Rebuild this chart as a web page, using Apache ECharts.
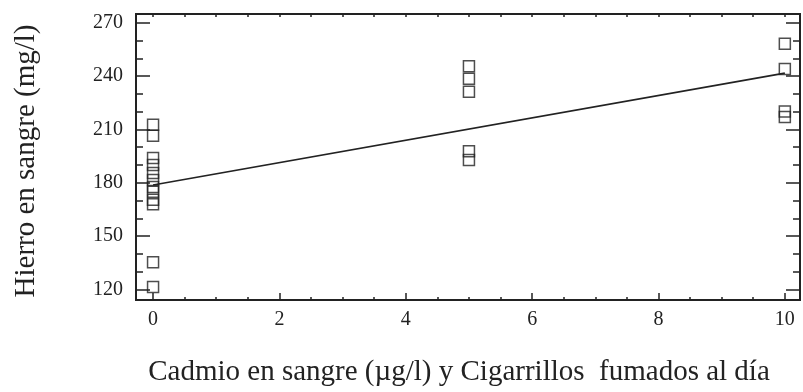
<!DOCTYPE html>
<html>
<head>
<meta charset="utf-8">
<script src="https://cdn.jsdelivr.net/npm/echarts@6/dist/echarts.min.js"></script>
<style>
  html, body { margin: 0; padding: 0; background: #fff; }
  #chart { width: 803px; height: 392px; }
</style>
</head>
<body>
<div id="chart"></div>
<script>
// Blood cadmium / cigarettes per day (x) vs blood iron (y)
const cadmio = [0,0,0,0,0,0,0,0,0,0,0,0, 5,5,5,5,5, 10,10,10,10];
const hierro = [212.6,206.4,193.9,190,185.5,181.5,177.6,175,170.4,167.9,135.2,121.3,
                245.6,238.6,231.3,197.8,192.8,
                258.2,244,220.1,217];

const xMajorTicks = [0, 2, 4, 6, 8, 10];
const xMinorTicks = [0,0.5,1,1.5,2,2.5,3,3.5,4,4.5,5,5.5,6,6.5,7,7.5,8,8.5,9,9.5,10];
const yMajorTicks = [120, 150, 180, 210, 240, 270];
const yMinorTicks = [120,130,140,150,160,170,180,190,200,210,220,230,240,250,260,270];

// Least-squares fit of iron on cadmium
function fitLine(xs, ys) {
  const n = xs.length;
  const mx = xs.reduce((a, b) => a + b, 0) / n;
  const my = ys.reduce((a, b) => a + b, 0) / n;
  let sxy = 0, sxx = 0;
  for (let i = 0; i < n; i++) {
    sxy += (xs[i] - mx) * (ys[i] - my);
    sxx += (xs[i] - mx) * (xs[i] - mx);
  }
  const b = sxy / sxx;
  return { a: my - b * mx, b: b };
}
const fit = fitLine(cadmio, hierro);
const fitX = [0, 10];
const fitData = fitX.map(x => [x, fit.a + fit.b * x]);

const X_MIN = -0.27, X_MAX = 10.24;
const Y_MIN = 114, Y_MAX = 275;
const ink = '#222';
const serif = '"Liberation Serif", "DejaVu Serif", serif';

function xAx(pos, ticks, len, labels) {
  return {
    type: 'value', position: pos, min: X_MIN, max: X_MAX,
    axisLine: { show: true, onZero: false, lineStyle: { color: ink, width: 2 } },
    axisTick: { show: true, inside: true, length: len, customValues: ticks, lineStyle: { color: ink, width: 1.5 } },
    axisLabel: labels ? { show: true, customValues: labels, color: ink, fontFamily: serif, fontSize: 20, margin: 10 } : { show: false },
    splitLine: { show: false }
  };
}
function yAx(pos, ticks, len, labels) {
  return {
    type: 'value', position: pos, min: Y_MIN, max: Y_MAX,
    axisLine: { show: true, onZero: false, lineStyle: { color: ink, width: 2 } },
    axisTick: { show: true, inside: true, length: len, customValues: ticks, lineStyle: { color: ink, width: 1.5 } },
    axisLabel: labels ? { show: true, customValues: labels, color: ink, fontFamily: serif, fontSize: 20, margin: 13 } : { show: false },
    splitLine: { show: false }
  };
}

const xMain = xAx('bottom', xMajorTicks, 7, xMajorTicks);
xMain.name = 'Cadmio en sangre (\u00b5g/l) y Cigarrillos  fumados al d\u00eda';
xMain.nameLocation = 'middle';
xMain.nameGap = 58;
xMain.nameTextStyle = { color: ink, fontFamily: serif, fontSize: 29, padding: [0, 18, 0, 0] };

const yMain = yAx('left', yMajorTicks, 14, yMajorTicks);
yMain.name = 'Hierro en sangre (mg/l)';
yMain.nameLocation = 'middle';
yMain.nameGap = 95;
yMain.nameTextStyle = { color: ink, fontFamily: serif, fontSize: 29, padding: [0, 8, 0, 0] };

const chart = echarts.init(document.getElementById('chart'));
chart.setOption({
  animation: false,
  backgroundColor: '#fff',
  grid: { left: 136, top: 14, right: 3, bottom: 92, containLabel: false },
  xAxis: [
    xMain,
    xAx('bottom', xMinorTicks, 3, null),
    xAx('top', xMinorTicks, 3, null)
  ],
  yAxis: [
    yMain,
    yAx('left', yMinorTicks, 7, null),
    yAx('right', yMajorTicks, 14, null),
    yAx('right', yMinorTicks, 7, null)
  ],
  series: [
    {
      type: 'line',
      xAxisIndex: 0, yAxisIndex: 0,
      data: fitData,
      symbol: 'none',
      lineStyle: { color: ink, width: 1.6 },
      z: 2
    },
    {
      type: 'scatter',
      xAxisIndex: 0, yAxisIndex: 0,
      data: cadmio.map((x, i) => [x, hierro[i]]),
      symbol: 'rect',
      symbolSize: 11,
      itemStyle: { color: 'rgba(0,0,0,0)', borderColor: ink, borderWidth: 1.5 },
      z: 3
    }
  ]
});
</script>
</body>
</html>
